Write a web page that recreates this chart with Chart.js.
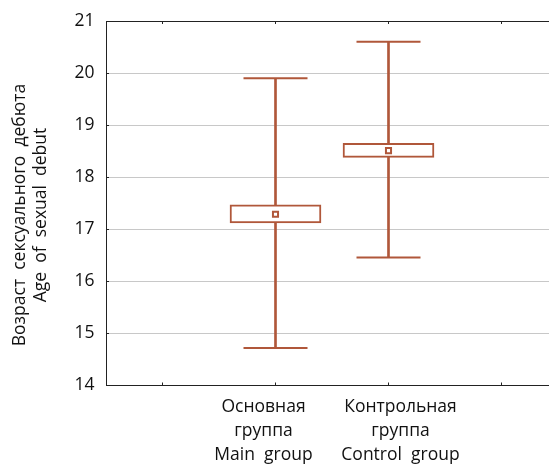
<!DOCTYPE html>
<html>
<head>
<meta charset="utf-8">
<script src="https://cdn.jsdelivr.net/npm/chart.js@4"></script>
<style>
  html, body { margin: 0; padding: 0; background: #ffffff; overflow: hidden; width: 549px; height: 466px; }
  #wrap { width: 558px; height: 466px; }
</style>
</head>
<body>
<div id="wrap"><canvas id="c" width="558" height="466"></canvas></div>
<script>
// ---- data ----
const categories = [
  ['Основная', 'группа', 'Main  group'],
  ['Контрольная', 'группа', 'Control  group']
];
const categoryPositions = [2, 3];
const whiskerLow  = [14.72, 16.46];
const whiskerHigh = [19.90, 20.60];
const boxLow      = [17.12, 18.38];
const boxHigh     = [17.47, 18.65];
const means       = [17.29, 18.51];
const xTickValues = [1, 2, 3, 4];
const yTitle = ['Возраст  сексуального  дебюта', 'Age  of  sexual  debut'];

// ---- style ----
const COLOR = '#B0573A';
const FAMILY = "'Open Sans', 'Noto Sans', sans-serif";
const FONT = { family: FAMILY, size: 17.5, weight: 'normal' };
const LABEL_SHIFT = [-12, 12];     // horizontal label shift (px) per category
const LABEL_PAD = 9.5;             // gap below the axis
const LABEL_LINE = 24;             // label line spacing (px)

const whiskerData = categoryPositions.map((x, i) => ({ x, y: [whiskerLow[i], whiskerHigh[i]] }));
const boxData = categoryPositions.map((x, i) => ({ x, y: [boxLow[i], boxHigh[i]] }));
const capData = [];
categoryPositions.forEach((x, i) => {
  capData.push({ x, y: whiskerLow[i] });
  capData.push({ x, y: whiskerHigh[i] });
});
const meanData = categoryPositions.map((x, i) => ({ x, y: means[i] }));

function setTicks(values) {
  return (scale) => { scale.ticks = values.map(v => ({ value: v })); };
}

// category labels under the x axis, anchored to the x scale
const categoryLabels = {
  id: 'categoryLabels',
  afterDraw(chart) {
    const xs = chart.scales.x;
    const ctx = chart.ctx;
    const top = chart.chartArea.bottom + LABEL_PAD;
    ctx.save();
    ctx.fillStyle = '#111';
    ctx.font = `${FONT.size}px ${FAMILY}`;
    ctx.textAlign = 'center';
    ctx.textBaseline = 'middle';
    categories.forEach((lines, i) => {
      const px = xs.getPixelForValue(categoryPositions[i]) + LABEL_SHIFT[i];
      lines.forEach((t, j) => ctx.fillText(t, px, top + LABEL_LINE / 2 + j * LABEL_LINE));
    });
    ctx.restore();
  }
};

new Chart(document.getElementById('c'), {
  type: 'scatter',
  plugins: [categoryLabels],
  data: {
    datasets: [
      { type: 'bar', label: 'whisker', data: whiskerData, xAxisID: 'x', yAxisID: 'y',
        backgroundColor: COLOR, borderWidth: 0, barThickness: 2, grouped: false, order: 4 },
      { type: 'bar', label: 'box', data: boxData, xAxisID: 'x', yAxisID: 'y',
        backgroundColor: '#ffffff', borderColor: COLOR, borderWidth: 2, borderSkipped: false,
        barThickness: 91, grouped: false, order: 3 },
      { type: 'scatter', label: 'caps', data: capData, xAxisID: 'x', yAxisID: 'y',
        pointStyle: 'line', pointRadius: 32, pointHoverRadius: 32, borderColor: COLOR,
        borderWidth: 2, order: 2 },
      { type: 'scatter', label: 'mean', data: meanData, xAxisID: 'x', yAxisID: 'y',
        pointStyle: 'rect', pointRadius: 3.6, pointHoverRadius: 3.6, backgroundColor: '#ffffff',
        borderColor: COLOR, borderWidth: 2, order: 1 }
    ]
  },
  options: {
    responsive: false,
    animation: false,
    events: [],
    layout: { autoPadding: false, padding: { top: 0, left: 0, right: 0, bottom: 36 } },
    plugins: {
      legend: { display: false },
      tooltip: { enabled: false },
      title: {
        display: true, position: 'left', text: yTitle, color: '#111',
        font: { ...FONT, lineHeight: 1.2 },
        padding: { top: 9.5, bottom: 0 }
      }
    },
    scales: {
      x: {
        type: 'linear', position: 'bottom',
        min: 0.5, max: 4.5, offset: false,
        afterBuildTicks: setTicks(xTickValues),
        afterFit: (s) => { s.height = 44.5; s.paddingLeft = 0; s.paddingRight = 0; },
        grid: { display: true, drawOnChartArea: false, drawTicks: true, tickLength: -3, tickColor: '#222', offset: false },
        border: { display: true, color: '#222', width: 1 },
        ticks: { display: false, autoSkip: false, maxRotation: 0 }
      },
      x2: {
        type: 'linear', axis: 'x', position: 'top',
        min: 0.5, max: 4.5, offset: false,
        afterBuildTicks: setTicks(xTickValues),
        afterFit: (s) => { s.height = 21; s.paddingLeft = 0; s.paddingRight = 0; },
        grid: { display: true, drawOnChartArea: false, drawTicks: true, tickLength: -3, tickColor: '#222', offset: false },
        border: { display: true, color: '#222', width: 1 },
        ticks: { display: false, autoSkip: false, maxRotation: 0 }
      },
      y: {
        type: 'linear', position: 'left',
        min: 14, max: 21,
        afterFit: (s) => { s.width = 54.5; s.paddingTop = 0; s.paddingBottom = 0; },
        grid: {
          display: true, drawOnChartArea: true, drawTicks: true, tickLength: -3,
          color: '#c8c8c8', borderDash: [1, 1], tickColor: '#222', tickBorderDash: []
        },
        border: { display: true, color: '#222', width: 1 },
        ticks: { stepSize: 1, padding: 14.5, color: '#111', font: FONT }
      }
    }
  }
});
</script>
</body>
</html>
